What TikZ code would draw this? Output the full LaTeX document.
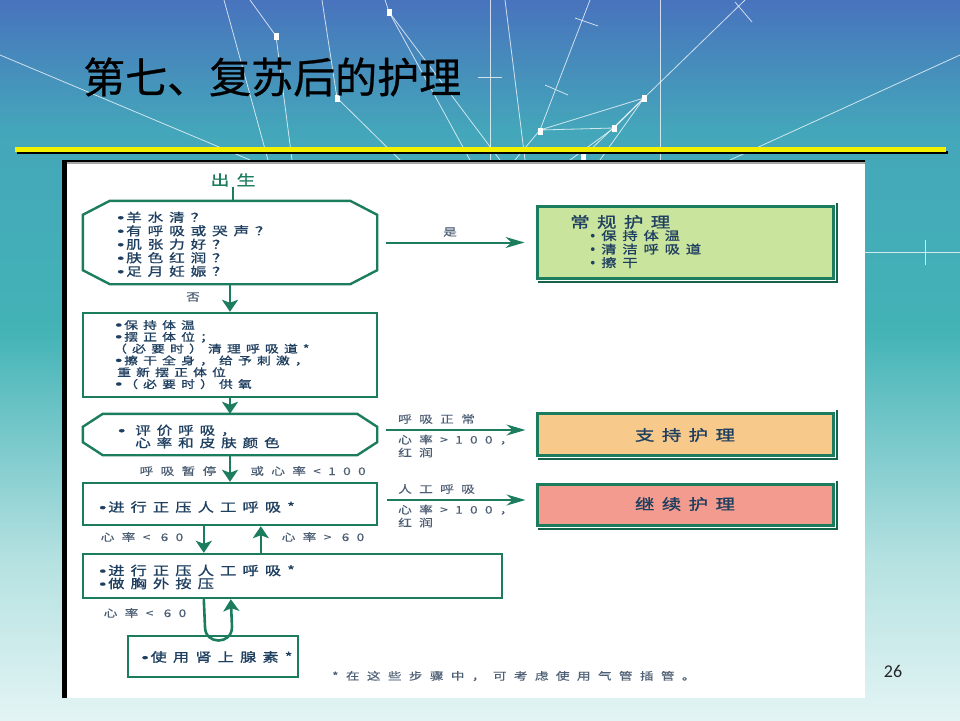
\documentclass[tikz,border=0pt]{standalone}
\usepackage{fontspec}
\usetikzlibrary{arrows.meta,calc}
\newfontfamily\fcb[FakeStretch=1.3,FakeBold=1.2,LetterSpace=49]{Noto Sans CJK SC}
\newfontfamily\fl[FakeStretch=1.3,FakeBold=0.3,LetterSpace=70]{Noto Sans CJK SC}
\newfontfamily\ftitle[FakeBold=0.6]{Noto Sans CJK SC}
\newfontfamily\fnum{Carlito}
\newfontfamily\fbul[FakeStretch=1.7,FakeBold=1.5]{DejaVu Sans}
\newfontfamily\fdot[FakeBold=1]{DejaVu Sans}
\newcommand\dashbul{{\fbul\fontsize{11}{11}\selectfont •}}
\newcommand\dotbul{{\fdot\fontsize{12}{12}\selectfont •}}
\definecolor{lg}{HTML}{1C7C5E}
\definecolor{dkg}{HTML}{14634A}
\definecolor{tx}{HTML}{1F3F60}
\definecolor{lbl}{HTML}{4D5F75}
\definecolor{gfill}{HTML}{C9E49D}
\definecolor{ofill}{HTML}{F7C98B}
\definecolor{rfill}{HTML}{F39B8E}
\definecolor{bga}{HTML}{4873BD}
\definecolor{bgb}{HTML}{44A6BA}
\definecolor{bgc}{HTML}{43B3B6}
\definecolor{bgd}{HTML}{B5E1E1}
\definecolor{bge}{HTML}{E3F4F4}
\definecolor{ylw}{HTML}{F2F200}
\newcommand\octoline[3]{%
\draw[draw=lg, line width=2.4pt] ([xshift=#2]#1.north west) -- ([xshift=-#2]#1.north east) -- ([yshift=-#3]#1.north east) -- ([yshift=#3]#1.south east) -- ([xshift=-#2]#1.south east) -- ([xshift=#2]#1.south west) -- ([yshift=#3]#1.south west) -- ([yshift=-#3]#1.north west) -- cycle;}
\newcommand\rshadow[1]{%
\draw[draw=dkg, line width=2pt] ([xshift=2pt,yshift=2pt]#1.north east) -- ([xshift=2pt,yshift=-2pt]#1.south east) -- ([xshift=2pt,yshift=-2pt]#1.south west);}
\begin{document}
\begin{tikzpicture}[x=1pt,y=-1pt,
 fline/.style={draw=lg, line width=2.6pt},
 varrow/.style={fline, -{Stealth[length=12pt,width=16pt,inset=3pt]}},
 harrow/.style={draw=lg, line width=2pt, -{Stealth[length=19pt,width=11pt,inset=6pt]}},
 lbox/.style={draw=lg, line width=2.4pt, inner sep=0, rectangle},
 shp/.style={inner sep=0, rectangle},
 rbox/.style={draw=lg, line width=3pt, inner sep=0, rectangle},
 ftxt/.style={text=tx, inner sep=0, align=left},
 lab/.style={text=lbl, inner sep=0, font=\fl\fontsize{10.5}{13}\selectfont},
 net/.style={draw=white, opacity=0.75, line width=0.8pt},
 sq/.style={fill=white, minimum width=5pt, minimum height=7pt, inner sep=0}]
\useasboundingbox (0,0) rectangle (960,720);
% background
\shade[top color=bga, bottom color=bgb] (0,0) rectangle (960,130);
\shade[top color=bgb, bottom color=bgc] (0,130) rectangle (960,330);
\shade[top color=bgc, bottom color=bgd] (0,330) rectangle (960,560);
\shade[top color=bgd, bottom color=bge] (0,560) rectangle (960,720);
% network decoration
\draw[net] (0,55) -- (250,160);
\draw[net] (385,0) -- (389,12) -- (470,160);
\draw[net] (389,12) -- (500,160);
\draw[net] (250,0) -- (276,36) -- (292,160);
\draw[net] (224,0) -- (268,160);
\draw[net] (322,0) -- (337,98) -- (400,160);
\draw[net] (490,0) -- (490,160);
\draw[net] (505,0) -- (525,160);
\draw[net] (590,0) -- (540,130) -- (515,160);
\draw[net] (540,130) -- (644,98) -- (614,128) -- cycle;
\draw[net] (644,98) -- (583,157);
\draw[net] (745,0) -- (644,98) -- (600,160);
\draw[net] (614,128) -- (570,160);
\draw[net] (960,55) -- (730,160);
\draw[net] (660,0) -- (660,160);
\draw[net] (478,77) -- (502,77);
\draw[net] (575,18) -- (598,26);
\draw[net] (735,2) -- (752,22);
\draw[net] (545,85) -- (568,95);
\draw[net] (865,252) -- (960,252);
\draw[net] (925,240) -- (925,265);
\node[sq] (s1) at (276,36) {};
\node[sq] (s2) at (389,12) {};
\node[sq] (s3) at (337,98) {};
\node[sq] (s4) at (540,131) {};
\node[sq] (s5) at (644,98) {};
\node[sq] (s6) at (614,128) {};
\node[sq] (s7) at (583,157) {};
% title
\node[anchor=west, inner sep=0, text=black, font=\ftitle\fontsize{42}{42}\selectfont] (title) at (83,77) {第七、复苏后的护理};
% yellow rule
\fill[black] (17,150.5) rectangle (948,154);
\fill[ylw] (15,147) rectangle (946,151.5);
% panel
\fill[white] (62,160) rectangle (865,698);
\fill[black!35] (62,162) rectangle (865,163.5);
\fill[black] (62,160) rectangle (865,162);
\fill[black] (62,160) rectangle (67,698);
% page number
\node[inner sep=0, text=black!85, font=\fnum\fontsize{18}{18}\selectfont] (pnum) at (893,671) {26};
% left flow shapes
\node[shp, minimum width=294pt, minimum height=83pt] (oct1) at (230,242.5) {};
\octoline{oct1}{27pt}{14pt}
\node[lbox, minimum width=294pt, minimum height=84pt] (box2) at (230,355) {};
\node[shp, minimum width=294pt, minimum height=41pt] (oct2) at (230,434.5) {};
\octoline{oct2}{20pt}{13pt}
\node[lbox, minimum width=294pt, minimum height=42pt] (box3) at (230,504) {};
\node[lbox, minimum width=419pt, minimum height=44pt] (box4) at (292.5,576) {};
\node[lbox, minimum width=170pt, minimum height=41pt] (box5) at (213,656.5) {};
% right boxes
\node[rbox, fill=gfill, minimum width=296pt, minimum height=72pt] (rb1) at (685,242.5) {};
\node[rbox, fill=ofill, minimum width=296pt, minimum height=42pt] (rb2) at (685,434.5) {};
\node[rbox, fill=rfill, minimum width=296pt, minimum height=41pt] (rb3) at (685,504.5) {};
\rshadow{rb1}
\rshadow{rb2}
\rshadow{rb3}
% texts
\node[inner sep=0, text=lg, font=\fcb\fontsize{14.5}{16}\selectfont] (birth) at (233,180) {出生};
\node[ftxt, anchor=north west, font=\fcb\fontsize{12}{13.5}\selectfont] (t1) at (115,211.5) {\dashbul 羊水清？\\\dashbul 有呼吸或哭声？\\\dashbul 肌张力好？\\\dashbul 肤色红润？\\\dashbul 足月妊娠？};
\node[ftxt, anchor=north west, font=\fcb\fontsize{10.6}{11.8}\selectfont] (t2) at (113,320) {\dashbul 保持体温\\\dashbul 摆正体位；\\（必要时）清理呼吸道*\\\dashbul 擦干全身，给予刺激，\\\hspace*{4pt}重新摆正体位\\\dashbul （必要时）供氧};
\node[ftxt, anchor=north west, font=\fcb\fontsize{12}{12.5}\selectfont] (t3) at (116,424.5) {\makebox[19pt][l]{\dashbul}评价呼吸，\\\hspace*{19pt}心率和皮肤颜色};
\node[ftxt, anchor=west, font=\fcb\fontsize{12.5}{13}\selectfont] (t4) at (97,507) {\dashbul 进行正压人工呼吸*};
\node[ftxt, anchor=north west, font=\fcb\fontsize{12.5}{13}\selectfont] (t5) at (97,564.5) {\dashbul 进行正压人工呼吸*\\\dashbul 做胸外按压};
\node[ftxt, font=\fcb\fontsize{12.5}{13}\selectfont] (t6) at (216,657) {\dashbul 使用肾上腺素*};
\node[ftxt, anchor=west, font=\fcb\fontsize{15}{16}\selectfont] (r1t) at (570,222) {常规护理};
\node[ftxt, anchor=north west, font=\fcb\fontsize{11.8}{13.5}\selectfont] (r1l) at (589,230) {\dotbul\hspace{5pt}保持体温\\\dotbul\hspace{5pt}清洁呼吸道\\\dotbul\hspace{5pt}擦干};
\node[ftxt, font=\fcb\fontsize{15}{16}\selectfont] (r2t) at (685,435) {支持护理};
\node[ftxt, font=\fcb\fontsize{15}{16}\selectfont] (r3t) at (685,504) {继续护理};
% labels
\node[lab] (lno) at (193,297) {否};
\node[lab] (lyes) at (450,232) {是};
\node[lab, anchor=west] (la1) at (398,419) {呼吸正常};
\node[lab, anchor=north west, align=left] (la2) at (398,434.5) {心率>100，\\红润};
\node[lab, anchor=west] (lb1) at (398,489) {人工呼吸};
\node[lab, anchor=north west, align=left] (lb2) at (398,504.5) {心率>100，\\红润};
\node[lab] (lc1) at (178,471) {呼吸暂停};
\node[lab] (lc2) at (308,471) {或心率<100};
\node[lab] (ld1) at (142,537) {心率< 60};
\node[lab] (ld2) at (323,537) {心率> 60};
\node[lab] (ld3) at (145,613) {心率< 60};
\node[lab, anchor=west] (foot) at (332,676) {*在这些步骤中，可考虑使用气管插管。};
% connectors
\draw[fline] (birth.south) -- (birth.south |- oct1.north);
\draw[varrow] (oct1.south) -- (box2.north);
\draw[varrow] (box2.south) -- (oct2.north);
\draw[varrow] (oct2.south) -- (box3.north);
\draw[varrow] ([xshift=122pt]box3.south west) -- ([xshift=122pt]box4.north west);
\draw[varrow] ([xshift=179pt]box4.north west) -- ([xshift=179pt]box3.south west);
\coordinate (u1) at (205,627);
\coordinate (u2) at (232,627);
\draw[varrow] ([xshift=122pt]box4.south west) -- (u1) .. controls (205,645) and (232,645) .. (u2) -- ([xshift=149pt]box4.south west);
\draw[harrow, shorten <=9pt, shorten >=11pt] (oct1.east) -- (rb1.west);
\draw[harrow, shorten <=9pt, shorten >=10pt] ([yshift=4.5pt]oct2.east) -- ([yshift=4.5pt]rb2.west);
\draw[harrow, shorten <=9pt, shorten >=10pt] ([yshift=4pt]box3.east) -- ([yshift=4.5pt]rb3.west);
\end{tikzpicture}
\end{document}
